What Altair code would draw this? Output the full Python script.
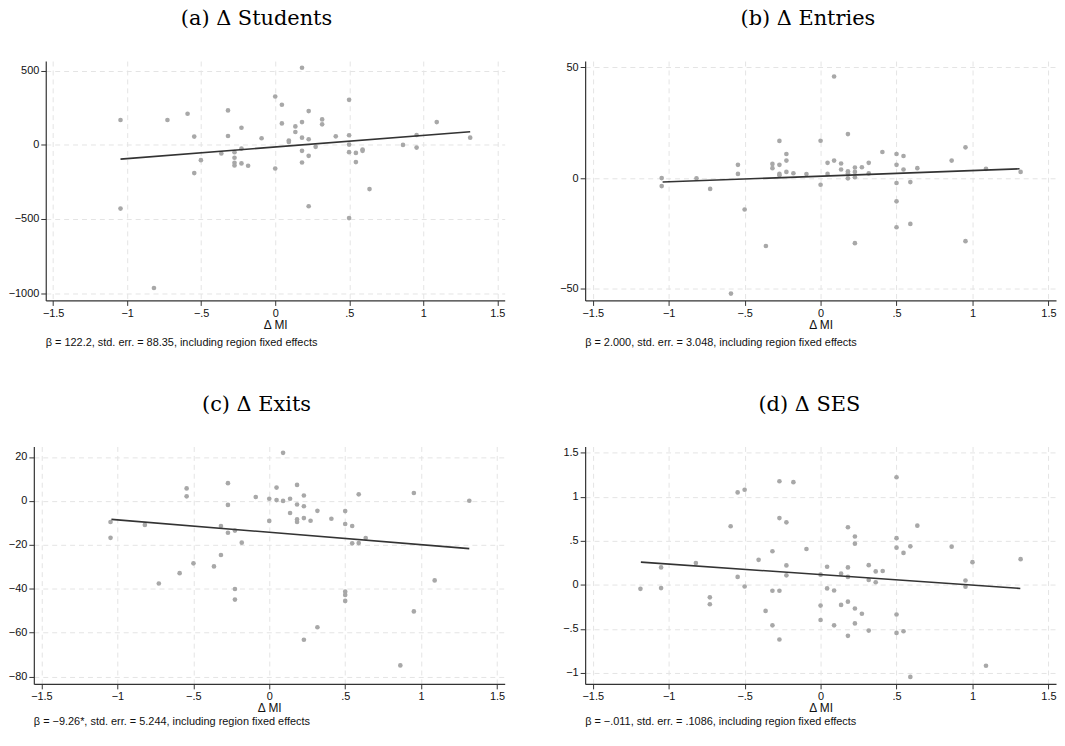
import altair as alt
import pandas as pd

# ---------------- data ----------------
X_TICKS = [-1.5, -1, -0.5, 0, 0.5, 1, 1.5]

# (a) Delta Students
a_x = [-1.045, -1.045, -0.728, -0.592, -0.547, -0.502, -0.547, -0.819, -0.319, -0.319,
       -0.228, -0.364, -0.275, -0.275, -0.275, -0.275, -0.228, -0.228, -0.183, -0.092,
       0.0, 0.0, 0.181, 0.045, 0.045, 0.226, 0.136, 0.181, 0.136, 0.317,
       0.317, 0.092, 0.092, 0.181, 0.226, 0.273, 0.181, 0.226, 0.181, 0.226,
       0.409, 0.499, 0.499, 0.499, 0.499, 0.545, 0.590, 0.590, 0.545, 0.637,
       0.499, 0.863, 0.955, 0.955, 1.091, 1.317]
a_y = [168, -430, 168, 210, 56, -103, -190, -966, 233, 60,
       116, -58, -49, -87, -121, -139, -25, -125, -141, 45,
       327, -159, 521, 271, 145, 228, 125, 154, 87, 172,
       139, 29, 20, 49, 38, -13, -40, -74, -119, -414,
       58, 304, 65, 2, -49, -54, -31, -40, -116, -298,
       -494, 0, -18, 67, 154, 49]
a_fit_x = [-1.045, 1.317]
a_fit_y = [-96, 89]

# (b) Delta Entries
b_x = [-1.046, -1.046, -0.817, -0.727, -0.590, -0.544, -0.544, -0.500, -0.360, -0.317,
       -0.317, -0.271, -0.271, -0.271, -0.271, -0.225, -0.225, -0.225, -0.179, -0.093,
       0.0, 0.0, 0.046, 0.046, 0.089, 0.089, 0.135, 0.135, 0.180, 0.180,
       0.180, 0.180, 0.226, 0.226, 0.226, 0.226, 0.272, 0.317, 0.317, 0.407,
       0.5, 0.5, 0.5, 0.5, 0.5, 0.546, 0.546, 0.591, 0.591, 0.637,
       0.863, 0.954, 0.954, 1.089, 1.317]
b_y = [0.0, -3.6, -0.1, -4.9, -52.2, 6.0, 1.9, -14.2, -30.7, 6.4,
       4.5, 16.8, 6.0, 1.9, 1.3, 10.9, 7.9, 2.8, 2.2, 1.8,
       16.9, -3.0, 6.9, 1.9, 45.9, 7.9, 6.6, 3.9, 19.9, 3.1,
       2.2, -0.1, 4.8, 2.8, 0.4, -29.4, 4.9, 6.9, 2.1, 11.8,
       10.9, 6.0, -2.2, -10.5, -22.2, 10.0, 3.9, -1.8, -20.7, 4.5,
       7.9, 13.9, -28.5, 4.2, 2.8]
b_fit_x = [-1.04, 1.31]
b_fit_y = [-1.8, 4.2]

# (c) Delta Exits
c_x = [-1.045, -1.045, -0.819, -0.727, -0.590, -0.544, -0.544, -0.499, -0.364, -0.318,
       -0.318, -0.272, -0.272, -0.272, -0.226, -0.226, -0.226, -0.181, -0.089, 0.0,
       0.0, 0.048, 0.048, 0.091, 0.091, 0.137, 0.137, 0.183, 0.183, 0.183,
       0.183, 0.228, 0.228, 0.228, 0.228, 0.272, 0.317, 0.317, 0.409, 0.5,
       0.5, 0.5, 0.5, 0.5, 0.546, 0.546, 0.589, 0.589, 0.635, 0.863,
       0.952, 0.952, 1.089, 1.317]
c_y = [-9.6, -16.8, -10.9, -37.6, -32.9, 5.7, 2.1, -28.4, -29.8, -11.4,
       -24.6, 8.1, -1.8, -14.5, -13.5, -40.1, -44.9, -19.0, 1.8, 1.0,
       -9.1, 6.1, 0.4, 21.9, 0.0, 1.0, -5.5, 7.3, -1.6, -8.4,
       -9.6, 2.5, -2.4, -7.8, -63.2, -9.0, -4.5, -57.5, -8.1, -4.6,
       -10.5, -41.3, -42.8, -45.5, -11.4, -19.3, 3.0, -19.2, -16.9, -74.9,
       3.6, -50.3, -36.2, 0.1]
c_fit_x = [-1.039, 1.317]
c_fit_y = [-8.4, -21.7]

# (d) Delta SES
d_x = [-1.186, -1.050, -1.050, -0.821, -0.729, -0.729, -0.592, -0.546, -0.546, -0.500,
       -0.500, -0.408, -0.362, -0.317, -0.317, -0.317, -0.271, -0.271, -0.271, -0.271,
       -0.225, -0.225, -0.225, -0.179, -0.093, 0.0, 0.0, 0.0, 0.043, 0.043,
       0.089, 0.089, 0.135, 0.135, 0.180, 0.180, 0.180, 0.180, 0.180, 0.226,
       0.226, 0.226, 0.226, 0.272, 0.317, 0.317, 0.317, 0.363, 0.363, 0.409,
       0.5, 0.5, 0.5, 0.5, 0.5, 0.546, 0.546, 0.591, 0.591, 0.637,
       0.863, 0.954, 0.954, 1.0, 1.089, 1.317]
d_y = [-0.045, 0.198, -0.037, 0.247, -0.142, -0.221, 0.666, 1.051, 0.090, 1.081,
       -0.019, 0.284, -0.296, 0.382, -0.067, -0.460, 1.178, 0.759, -0.067, -0.621,
       0.711, 0.221, 0.108, 1.167, 0.408, 0.116, -0.236, -0.400, 0.206, -0.041,
       -0.064, -0.460, 0.127, -0.228, 0.655, 0.198, 0.090, -0.191, -0.580, 0.550,
       0.468, -0.269, -0.438, -0.329, 0.224, 0.056, -0.520, 0.153, 0.030, 0.157,
       1.223, 0.531, 0.423, -0.337, -0.546, 0.363, -0.527, 0.438, -1.047, 0.673,
       0.434, 0.049, -0.022, 0.258, -0.920, 0.292]
d_fit_x = [-1.183, 1.315]
d_fit_y = [0.258, -0.041]

TITLES = ["(a) \u0394 Students", "(b) \u0394 Entries", "(c) \u0394 Exits", "(d) \u0394 SES"]
NOTES = [
    "\u03b2 = 122.2, std. err. = 88.35, including region fixed effects",
    "\u03b2 = 2.000, std. err. = 3.048, including region fixed effects",
    "\u03b2 = \u22129.26*, std. err. = 5.244, including region fixed effects",
    "\u03b2 = \u2212.011, std. err. = .1086, including region fixed effects",
]
Y_TICKS = [[-1000, -500, 0, 500], [-50, 0, 50], [-80, -60, -40, -20, 0, 20],
           [-1, -0.5, 0, 0.5, 1, 1.5]]
Y_DOMAINS = [[-1050, 566], [-55.3, 52.9], [-83.3, 24.8], [-1.126, 1.573]]
X_DOMAIN = [-1.55, 1.55]

# ---------------- styling ----------------
SANS = "Liberation Sans"
SERIF = "DejaVu Serif"
PT_COLOR = "#a8a8a8"
LINE_COLOR = "#333333"
LABEL_EXPR = "replace(datum.label, '0.', '.')"


def panel(xs, ys, fx, fy, title, note, ydom, yticks, w, h, note_off, inset=0):
    pts = pd.DataFrame({"x": xs, "y": ys})
    fit = pd.DataFrame({"x": fx, "y": fy})
    xscale = alt.Scale(domain=X_DOMAIN, nice=False, zero=False)
    if inset:
        xscale = alt.Scale(domain=X_DOMAIN, nice=False, zero=False, range=[inset, w])
    xenc = alt.X("x:Q", scale=xscale,
                 axis=alt.Axis(values=X_TICKS, format=".2~f", labelExpr=LABEL_EXPR,
                               title="\u0394 MI"))
    yaxis = dict(values=yticks, format=".2~f", labelExpr=LABEL_EXPR, title=None)
    if inset:
        yaxis["offset"] = -inset
    yenc = alt.Y("y:Q",
                 scale=alt.Scale(domain=ydom, nice=False, zero=False),
                 axis=alt.Axis(**yaxis))
    points = alt.Chart(pts).mark_circle(size=22, color=PT_COLOR, opacity=1).encode(
        x=xenc, y=yenc)
    line = alt.Chart(fit).mark_line(color=LINE_COLOR, strokeWidth=1.6).encode(
        x="x:Q", y="y:Q")
    txt = alt.Chart(pd.DataFrame({"t": [note]})).mark_text(
        align="left", baseline="middle", font=SANS, fontSize=11, color="#111111"
    ).encode(x=alt.value(inset), y=alt.value(h + note_off), text="t:N")
    return alt.layer(points, line, txt).properties(
        width=w, height=h,
        title=alt.TitleParams(title, font=SERIF, fontSize=21, fontWeight="normal",
                              anchor="middle", frame="bounds", offset=32,
                              color="#000000"))


pa = panel(a_x, a_y, a_fit_x, a_fit_y, TITLES[0], NOTES[0], Y_DOMAINS[0], Y_TICKS[0], 474, 241, 43, inset=12)
pb = panel(b_x, b_y, b_fit_x, b_fit_y, TITLES[1], NOTES[1], Y_DOMAINS[1], Y_TICKS[1], 474, 241, 43)
pc = panel(c_x, c_y, c_fit_x, c_fit_y, TITLES[2], NOTES[2], Y_DOMAINS[2], Y_TICKS[2], 474, 239, 38)
pd_ = panel(d_x, d_y, d_fit_x, d_fit_y, TITLES[3], NOTES[3], Y_DOMAINS[3], Y_TICKS[3], 474, 239, 38)

top = alt.hconcat(pa, pb, spacing=54)
bottom = alt.hconcat(pc, pd_, spacing=57)

chart = alt.vconcat(top, bottom, spacing=46).properties(
    padding={"top": -2, "left": 0, "right": 0, "bottom": 0}, background="white"
).configure_view(stroke=None).configure_axis(
    grid=True, gridColor="#e4e4e4", gridDash=[5, 4], gridWidth=1,
    domainColor="#333333", domainWidth=1.2, tickColor="#333333", tickSize=5,
    labelFont=SANS, labelFontSize=11, labelColor="#111111", labelPadding=2,
    titleFont=SANS, titleFontSize=12, titleFontWeight="normal", titleColor="#111111",
    titlePadding=1
)

chart.save("out.html", embed_options={"renderer": "svg", "actions": False})
